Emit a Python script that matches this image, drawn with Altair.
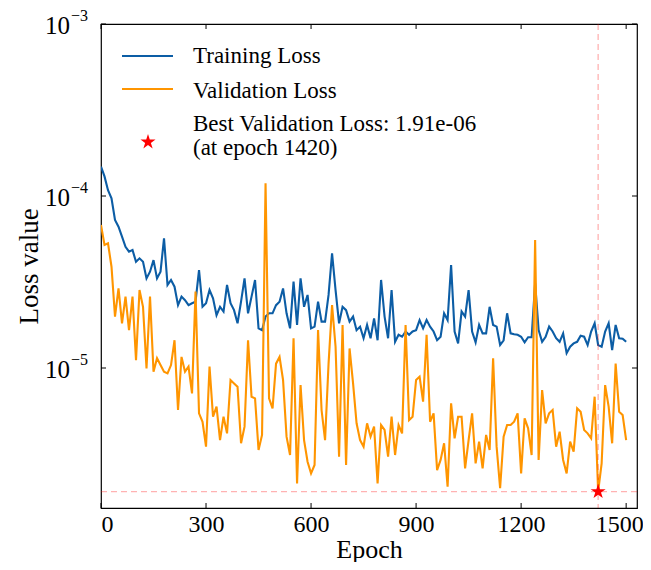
import altair as alt
import pandas as pd

# ---------------- data ----------------
epochs = list(range(0, 1501, 10))

train_loss = [
    1.48e-4, 1.30e-4, 1.08e-4, 9.69e-5, 7.25e-5, 6.63e-5, 5.80e-5, 5.07e-5, 4.75e-5, 4.85e-5,
    4.15e-5, 4.34e-5, 4.15e-5, 3.32e-5, 3.63e-5, 4.24e-5, 3.32e-5, 3.63e-5, 5.67e-5, 3.04e-5,
    3.25e-5, 2.97e-5, 2.32e-5, 2.60e-5, 2.48e-5, 2.32e-5, 2.38e-5, 2.43e-5, 3.71e-5, 2.27e-5,
    2.38e-5, 2.84e-5, 2.54e-5, 2.03e-5, 2.27e-5, 2.13e-5, 3.04e-5, 2.38e-5, 2.17e-5, 1.82e-5,
    2.43e-5, 3.32e-5, 2.08e-5, 2.60e-5, 3.25e-5, 1.70e-5, 1.66e-5, 1.99e-5, 2.08e-5, 2.08e-5,
    2.32e-5, 2.43e-5, 2.90e-5, 2.08e-5, 1.70e-5, 3.18e-5, 1.78e-5, 3.32e-5, 2.27e-5, 2.66e-5,
    1.70e-5, 1.74e-5, 2.43e-5, 1.86e-5, 1.86e-5, 2.66e-5, 4.64e-5, 2.84e-5, 1.82e-5, 2.27e-5,
    2.17e-5, 1.86e-5, 1.99e-5, 1.66e-5, 1.74e-5, 1.49e-5, 1.78e-5, 1.49e-5, 1.94e-5, 1.45e-5,
    3.25e-5, 1.99e-5, 1.49e-5, 2.84e-5, 1.42e-5, 1.56e-5, 1.52e-5, 1.63e-5, 1.56e-5, 1.63e-5,
    1.66e-5, 1.90e-5, 1.70e-5, 1.90e-5, 1.74e-5, 1.63e-5, 1.45e-5, 1.52e-5, 2.08e-5, 1.90e-5,
    3.97e-5, 1.63e-5, 1.39e-5, 2.13e-5, 1.99e-5, 2.84e-5, 1.63e-5, 1.41e-5, 1.78e-5, 1.59e-5,
    1.59e-5, 2.27e-5, 1.78e-5, 1.74e-5, 1.36e-5, 1.45e-5, 2.08e-5, 1.59e-5, 1.57e-5, 1.56e-5,
    1.52e-5, 1.41e-5, 1.51e-5, 1.51e-5, 3.11e-5, 1.66e-5, 1.42e-5, 1.52e-5, 1.74e-5, 1.63e-5,
    1.49e-5, 1.42e-5, 1.59e-5, 1.22e-5, 1.33e-5, 1.39e-5, 1.42e-5, 1.54e-5, 1.52e-5, 1.36e-5,
    1.63e-5, 1.82e-5, 1.36e-5, 1.33e-5, 1.63e-5, 1.82e-5, 1.27e-5, 1.78e-5, 1.49e-5, 1.48e-5,
    1.42e-5,
]

val_loss = [
    6.78e-5, 5.19e-5, 5.31e-5, 3.88e-5, 1.99e-5, 2.90e-5, 1.82e-5, 2.60e-5, 1.66e-5, 2.60e-5,
    1.11e-5, 2.84e-5, 2.27e-5, 9.95e-6, 2.60e-5, 9.52e-6, 1.14e-5, 1.04e-5, 9.52e-6, 9.31e-6,
    1.04e-5, 1.45e-5, 5.70e-6, 1.16e-5, 9.52e-6, 1.02e-5, 7.12e-6, 2.78e-5, 5.45e-6, 4.87e-6,
    3.49e-6, 1.02e-5, 5.21e-6, 5.96e-6, 3.81e-6, 5.21e-6, 4.17e-6, 8.52e-6, 8.14e-6, 7.78e-6,
    3.65e-6, 4.56e-6, 1.45e-5, 6.81e-6, 6.66e-6, 3.34e-6, 4.08e-6, 1.185e-4, 6.66e-6, 5.83e-6,
    1.06e-5, 1.16e-5, 8.52e-6, 3.99e-6, 3.12e-6, 1.49e-5, 2.13e-6, 7.96e-6, 3.81e-6, 2.85e-6,
    2.44e-6, 2.73e-6, 1.66e-5, 5.70e-6, 3.81e-6, 1.06e-5, 2.32e-5, 1.33e-5, 3.05e-6, 1.78e-5,
    2.73e-6, 1.30e-5, 8.14e-6, 4.77e-6, 3.81e-6, 3.49e-6, 4.77e-6, 3.99e-6, 4.56e-6, 2.13e-6,
    4.66e-6, 4.36e-6, 3.05e-6, 5.21e-6, 3.12e-6, 4.66e-6, 4.17e-6, 1.78e-5, 4.98e-6, 5.21e-6,
    8.52e-6, 8.90e-6, 6.37e-6, 1.56e-5, 4.87e-6, 5.45e-6, 2.55e-6, 2.92e-6, 3.65e-6, 2.04e-6,
    6.23e-6, 3.90e-6, 5.21e-6, 5.21e-6, 2.61e-6, 3.81e-6, 5.45e-6, 2.79e-6, 3.73e-6, 2.61e-6,
    4.08e-6, 3.34e-6, 1.14e-5, 3.49e-6, 2.00e-6, 3.99e-6, 4.66e-6, 4.66e-6, 4.87e-6, 5.45e-6,
    2.44e-6, 5.10e-6, 4.46e-6, 3.12e-6, 5.55e-5, 2.92e-6, 7.45e-6, 4.77e-6, 5.45e-6, 5.70e-6,
    3.49e-6, 4.26e-6, 2.92e-6, 2.44e-6, 3.73e-6, 3.26e-6, 5.83e-6, 5.57e-6, 4.36e-6, 4.17e-6,
    3.90e-6, 6.81e-6, 1.91e-6, 2.79e-6, 7.96e-6, 5.96e-6, 3.65e-6, 1.06e-5, 5.57e-6, 5.33e-6,
    3.81e-6,
]

series_names = ["Training Loss", "Validation Loss"]
series_colors = ["#0C5DA5", "#FF9500"]
best_epoch = 1420
best_loss = 1.91e-06
best_text = ["Best Validation Loss: 1.91e-06", "(at epoch 1420)"]
x_ticks = [0, 300, 600, 900, 1200, 1500]
y_ticks = [1e-5, 1e-4, 1e-3]
y_tick_exp = ["\u22125", "\u22124", "\u22123"]

# ---------------- layout / style ----------------
FONT = "Liberation Serif"
W, H = 536, 484
STAR = ("M0,-1L0.2245,-0.309L0.951,-0.309L0.363,0.118L0.588,0.809L0,0.382"
        "L-0.588,0.809L-0.363,0.118L-0.951,-0.309L-0.2245,-0.309Z")

xs = alt.Scale(domain=[0, 1531], nice=False, zero=False)
ys = alt.Scale(type="log", domain=[1.535e-6, 1e-3], nice=False)

X_AXIS = alt.Axis(
    values=x_ticks, title="Epoch", grid=False, ticks=False, tickSize=0, domain=False,
    labelFontSize=24, labelPadding=4, titleFontSize=26, titlePadding=0, format="d",
    labelOffset=alt.condition("datum.value == 1500", alt.value(-7), alt.value(0)),
)
Y_AXIS = alt.Axis(title="Loss value", labels=False, ticks=False, tickSize=0,
                  domain=False, grid=False, titleFontSize=27, titlePadding=58,
                  minExtent=0, values=y_ticks)

df = pd.concat([
    pd.DataFrame({"epoch": epochs, "loss": train_loss, "series": series_names[0]}),
    pd.DataFrame({"epoch": epochs, "loss": val_loss, "series": series_names[1]}),
])


def xenc():
    return alt.X("epoch:Q", scale=xs, axis=X_AXIS, title="Epoch")


def yenc():
    return alt.Y("loss:Q", scale=ys, axis=Y_AXIS, title="Loss value")


lines = alt.Chart(df).mark_line(strokeWidth=2.1, clip=True).encode(
    x=xenc(),
    y=yenc(),
    color=alt.Color("series:N", scale=alt.Scale(domain=series_names, range=series_colors),
                    legend=None),
    detail="series:N",
)

best_df = pd.DataFrame({"epoch": [best_epoch], "loss": [best_loss]})
vline = alt.Chart(best_df).mark_rule(color="red", opacity=0.3, strokeWidth=1.3,
                                     strokeDash=[6, 4]).encode(x=xenc())
hline = alt.Chart(best_df).mark_rule(color="red", opacity=0.3, strokeWidth=1.3,
                                     strokeDash=[6, 4]).encode(y=yenc())
best_pt = alt.Chart(best_df).mark_point(shape=STAR, filled=True, color="red", opacity=1,
                                        size=250, strokeWidth=0).encode(x=xenc(), y=yenc())

# inward ticks on all four sides
xt = pd.DataFrame({"epoch": x_ticks})
yt = pd.DataFrame({"loss": y_ticks, "base": ["10"] * len(y_ticks), "exp": y_tick_exp})
tick_style = dict(color="black", strokeWidth=1)
xt_bottom = alt.Chart(xt).mark_rule(**tick_style).encode(
    x=xenc(), y=alt.value(H), y2=alt.value(H - 5))
xt_top = alt.Chart(xt).mark_rule(**tick_style).encode(
    x=xenc(), y=alt.value(0), y2=alt.value(5))
yt_left = alt.Chart(yt).mark_rule(**tick_style).encode(
    y=yenc(), x=alt.value(0), x2=alt.value(5))
yt_right = alt.Chart(yt).mark_rule(**tick_style).encode(
    y=yenc(), x=alt.value(W), x2=alt.value(W - 5))

# y tick labels as 10^n
ylab_base = alt.Chart(yt).mark_text(align="right", baseline="middle", font=FONT,
                                    fontSize=25, color="black", dy=2).encode(
    y=yenc(), x=alt.value(-31), text="base:N")
ylab_exp = alt.Chart(yt).mark_text(align="left", baseline="middle", font=FONT,
                                   fontSize=16, color="black", dy=-8).encode(
    y=yenc(), x=alt.value(-30), text="exp:N")


# legend (drawn manually, top-left inside the plot)
def legend_line(name, color, ypos):
    return alt.Chart(pd.DataFrame({"label": [name]})).mark_rule(
        color=color, strokeWidth=2.1).encode(
        x=alt.value(21), x2=alt.value(72), y=alt.value(ypos))


def legend_text(text, ypos):
    return alt.Chart(pd.DataFrame({"label": [text]})).mark_text(
        align="left", baseline="alphabetic", font=FONT, fontSize=23, color="black").encode(
        x=alt.value(92), y=alt.value(ypos), text="label:N")


leg_star = alt.Chart(pd.DataFrame({"label": ["best"]})).mark_point(
    shape=STAR, filled=True, color="red", opacity=1, size=250, strokeWidth=0).encode(
    x=alt.value(47), y=alt.value(118))

legend = [
    legend_line(series_names[0], series_colors[0], 32),
    legend_text(series_names[0], 39),
    legend_line(series_names[1], series_colors[1], 65),
    legend_text(series_names[1], 74),
    leg_star,
    legend_text(best_text[0], 107),
    legend_text(best_text[1], 131),
]

chart = alt.layer(
    lines, vline, hline, best_pt,
    xt_bottom, xt_top, yt_left, yt_right,
    ylab_base, ylab_exp,
    *legend,
).properties(
    width=W, height=H,
    padding={"left": 93, "top": 16, "right": 6, "bottom": 54},
    autosize=alt.AutoSizeParams(type="none"),
).configure_view(
    stroke="black", strokeWidth=1.2
).configure_axis(
    labelFont=FONT, titleFont=FONT, titleFontWeight="normal",
    labelColor="black", titleColor="black"
)

chart.save("out.html", embed_options={"renderer": "svg", "actions": False})
